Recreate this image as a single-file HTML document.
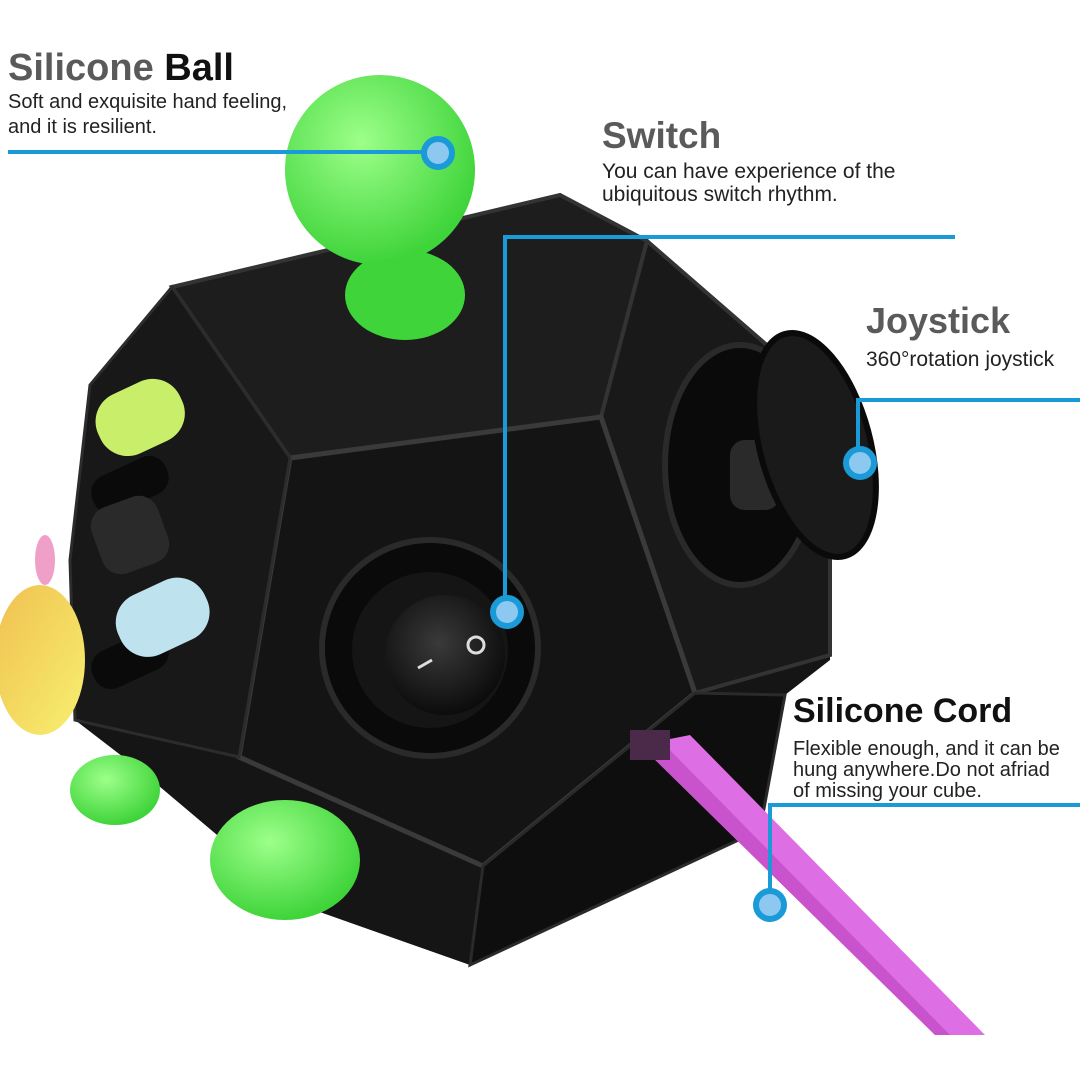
<!DOCTYPE html>
<html><head><meta charset="utf-8"><style>
html,body{margin:0;padding:0;background:#fff;}
svg{display:block}
</style></head><body>
<svg width="1080" height="1080" viewBox="0 0 1080 1080" xmlns="http://www.w3.org/2000/svg" font-family="Liberation Sans, sans-serif">
<defs>
<radialGradient id="g" cx="40%" cy="35%" r="65%"><stop offset="0" stop-color="#9dff8a"/><stop offset="1" stop-color="#3fd43a"/></radialGradient>
<radialGradient id="sw" cx="45%" cy="40%" r="60%"><stop offset="0" stop-color="#3a3a3a"/><stop offset="1" stop-color="#0c0c0c"/></radialGradient>
<linearGradient id="yb" x1="0" y1="0" x2="1" y2="1"><stop offset="0" stop-color="#f0c050"/><stop offset="1" stop-color="#f7f070"/></linearGradient>
</defs>
<!-- body -->
<polygon points="172,287 560,195 647,241 830,400 830,660 785,695 760,830 470,965 300,905 140,770 75,720 70,560 90,385" fill="#151515"/>
<!-- faces -->
<polygon points="172,287 560,195 647,241 601,417 290,458" fill="#1d1d1d" stroke="#333" stroke-width="4"/>
<polygon points="601,417 647,241 830,400 830,655 695,693" fill="#191919" stroke="#333" stroke-width="4"/>
<polygon points="290,458 601,417 695,693 483,866 239,757" fill="#141414" stroke="#3a3a3a" stroke-width="5"/>
<polygon points="483,866 695,693 785,695 760,830 470,965" fill="#0e0e0e" stroke="#2a2a2a" stroke-width="3"/>
<polygon points="172,287 290,458 239,757 75,720 70,560 90,385" fill="#181818" stroke="#2c2c2c" stroke-width="3"/>
<!-- yellow ball left -->
<ellipse cx="40" cy="660" rx="45" ry="75" fill="url(#yb)"/>
<ellipse cx="45" cy="560" rx="10" ry="25" fill="#f0a0c8"/>
<!-- left face sliders -->
<rect x="90" y="465" width="80" height="40" rx="18" fill="#0a0a0a" transform="rotate(-25 130 485)"/>
<rect x="90" y="640" width="80" height="40" rx="18" fill="#0a0a0a" transform="rotate(-25 130 660)"/>
<rect x="95" y="385" width="90" height="65" rx="30" fill="#c8ee6a" transform="rotate(-25 140 417)"/>
<rect x="115" y="585" width="95" height="65" rx="30" fill="#bfe2ef" transform="rotate(-25 162 617)"/>
<rect x="95" y="500" width="70" height="70" rx="20" fill="#2a2a2a" transform="rotate(-20 130 535)"/>
<!-- green balls -->
<ellipse cx="115" cy="790" rx="45" ry="35" fill="url(#g)"/>
<ellipse cx="285" cy="860" rx="75" ry="60" fill="url(#g)"/>
<ellipse cx="405" cy="295" rx="60" ry="45" fill="#3fd43a"/>
<circle cx="380" cy="170" r="95" fill="url(#g)"/>
<!-- switch -->
<circle cx="430" cy="648" r="108" fill="#0a0a0a" stroke="#2a2a2a" stroke-width="6"/>
<circle cx="430" cy="650" r="78" fill="#151515"/>
<circle cx="445" cy="655" r="60" fill="url(#sw)"/>
<line x1="418" y1="668" x2="432" y2="660" stroke="#ddd" stroke-width="3"/>
<circle cx="476" cy="645" r="8" fill="none" stroke="#ddd" stroke-width="3"/>
<!-- joystick -->
<ellipse cx="740" cy="465" rx="75" ry="120" fill="#0a0a0a" stroke="#2a2a2a" stroke-width="6"/>
<rect x="730" y="440" width="50" height="70" rx="15" fill="#2a2a2a"/>
<ellipse cx="815" cy="445" rx="55" ry="115" fill="#1a1a1a" stroke="#0a0a0a" stroke-width="6" transform="rotate(-15 815 445)"/>
<!-- cord -->
<polygon points="640,745 690,735 985,1035 935,1035" fill="#de6ee4"/>
<polygon points="640,745 660,740 950,1035 935,1035" fill="#c853cc"/>
<rect x="630" y="730" width="40" height="30" fill="#4a2a48"/>
<!-- labels -->
<text x="8" y="80" font-size="38" font-weight="bold" fill="#5a5a5a">Silicone <tspan fill="#111">Ball</tspan></text>
<text x="8" y="108" font-size="20" fill="#222">Soft and exquisite hand feeling,</text>
<text x="8" y="133" font-size="20" fill="#222">and it is resilient.</text>
<text x="602" y="148" font-size="37" font-weight="bold" fill="#5a5a5a">Switch</text>
<text x="602" y="178" font-size="21" fill="#222">You can have experience of the</text>
<text x="602" y="201" font-size="21" fill="#222">ubiquitous switch rhythm.</text>
<text x="866" y="333" font-size="36" font-weight="bold" fill="#5a5a5a">Joystick</text>
<text x="866" y="366" font-size="21" fill="#222">360°rotation joystick</text>
<text x="793" y="722" font-size="34" font-weight="bold" fill="#111">Silicone Cord</text>
<text x="793" y="755" font-size="20" fill="#222">Flexible enough, and it can be</text>
<text x="793" y="776" font-size="20" fill="#222">hung anywhere.Do not afriad</text>
<text x="793" y="797" font-size="20" fill="#222">of missing your cube.</text>
<!-- connectors -->
<g stroke="#1a9ad6" stroke-width="4" fill="none">
<line x1="8" y1="152" x2="425" y2="152"/>
<polyline points="955,237 505,237 505,598"/>
<polyline points="1080,400 858,400 858,448"/>
<polyline points="1080,805 770,805 770,890"/>
</g>
<g fill="#8cc8f0" stroke="#1a9ad6" stroke-width="6">
<circle cx="438" cy="153" r="14"/>
<circle cx="507" cy="612" r="14"/>
<circle cx="860" cy="463" r="14"/>
<circle cx="770" cy="905" r="14"/>
</g>
</svg>
</body></html>
